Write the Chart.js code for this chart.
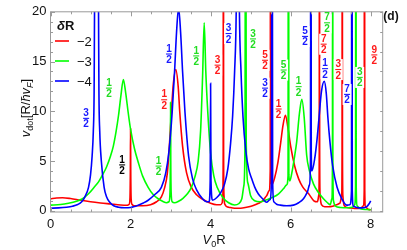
<!DOCTYPE html>
<html>
<head>
<meta charset="utf-8">
<script src="https://cdn.jsdelivr.net/npm/chart.js@4.4.1/dist/chart.umd.min.js"></script>
<style>
  html, body { margin: 0; padding: 0; background: #fff; }
  canvas { display: block; }
</style>
</head>
<body>
<canvas id="vdot-chart" width="407" height="250" style="width:407px;height:250px;"></canvas>
<script>
// δR = -2, -3, -4 : [V0R, vdot]
const red = [
  [0, 1.2], [0.15, 1.28], [0.3, 1.3], [0.5, 1.22], [0.75, 1.05], [1.0, 0.9], [1.25, 0.78],
  [1.5, 0.68], [1.75, 0.58], [1.9, 0.55], [1.96, 0.62], [1.985, 1.2], [1.995, 4], [2.0, 8.2],
  [2.005, 4], [2.015, 1.2], [2.04, 0.62], [2.1, 0.5], [2.3, 0.5], [2.5, 0.6], [2.65, 0.9],
  [2.77, 1.4], [2.85, 2.3], [2.92, 3.8], [2.97, 6.5], [3.02, 9.9], [3.07, 12.8], [3.13, 14.2],
  [3.19, 12.5], [3.23, 9.9], [3.3, 6.5], [3.4, 3.8], [3.52, 2.35], [3.65, 1.6], [3.8, 1.15],
  [4.0, 0.75], [4.15, 0.6], [4.25, 0.6], [4.29, 0.8], [4.305, 1.5], [4.315, 6], [4.32, 60],
  [4.325, 6], [4.335, 1.5], [4.35, 0.7], [4.45, 0.35], [4.6, 0.25], [4.75, 0.25], [4.9, 0.35],
  [5.05, 0.5], [5.2, 0.75], [5.3, 1.0], [5.4, 1.5], [5.46, 2.0], [5.49, 4], [5.5, 60],
  [5.51, 4], [5.53, 2.6], [5.6, 3.3], [5.68, 4.8], [5.75, 6.8], [5.81, 8.6], [5.87, 9.6],
  [5.93, 8.4], [6.0, 6.5], [6.1, 4.5], [6.2, 3.2], [6.3, 2.4], [6.45, 1.7], [6.58, 1.0],
  [6.67, 0.9], [6.705, 1.6], [6.715, 6], [6.72, 60], [6.725, 6], [6.735, 1.6], [6.77, 0.6],
  [6.85, 0.4], [6.95, 0.4], [7.05, 0.45], [7.15, 0.6], [7.23, 0.75], [7.275, 1.5], [7.285, 6],
  [7.29, 60], [7.295, 6], [7.305, 1.5], [7.34, 0.5], [7.45, 0.3], [7.6, 0.22], [7.75, 0.25],
  [7.82, 0.5], [7.838, 2], [7.845, 60], [7.852, 2], [7.87, 0.4], [7.95, 0.12], [8.0, 0.1]
];
const green = [
  [0, 0.56], [0.25, 0.62], [0.45, 0.75], [0.65, 0.95], [0.8, 1.2], [0.95, 1.7], [1.1, 2.4],
  [1.2, 2.9], [1.3, 3.6], [1.4, 4.4], [1.5, 5.5], [1.57, 6.5], [1.64, 8.0], [1.7, 9.6],
  [1.76, 11.6], [1.82, 13.2], [1.88, 11.8], [1.94, 9.9], [2.0, 8.2], [2.1, 6.2], [2.19, 4.9],
  [2.3, 3.5], [2.44, 2.35], [2.57, 1.6], [2.69, 1.2], [2.8, 0.95], [2.9, 0.8], [2.96, 0.9],
  [2.985, 1.8], [2.995, 5], [3.0, 10.9], [3.005, 5], [3.015, 1.8], [3.04, 0.9], [3.1, 0.8],
  [3.2, 0.95], [3.31, 1.25], [3.42, 1.7], [3.52, 2.35], [3.6, 3.3], [3.69, 5.0], [3.75, 8],
  [3.8, 13.5], [3.84, 18.9], [3.88, 14], [3.93, 9.9], [4.0, 5.8], [4.08, 3.5], [4.17, 2.3],
  [4.3, 1.35], [4.45, 0.8], [4.6, 0.58], [4.7, 0.7], [4.78, 1.2], [4.83, 2.5], [4.86, 7],
  [4.875, 60], [4.89, 7], [4.93, 2.8], [5.0, 1.5], [5.1, 1.0], [5.24, 0.9], [5.4, 1.1],
  [5.57, 1.37], [5.7, 1.7], [5.82, 2.2], [5.9, 2.6], [5.935, 3.5], [5.945, 60], [5.955, 3.6],
  [5.98, 3.0], [6.03, 3.8], [6.1, 5.5], [6.15, 6.9], [6.22, 9.8], [6.28, 11.2], [6.34, 9.3],
  [6.4, 5.6], [6.47, 4.0], [6.57, 2.7], [6.7, 1.8], [6.82, 1.2], [6.92, 0.8], [6.99, 0.6],
  [7.03, 1.2], [7.045, 5], [7.05, 60], [7.055, 5], [7.07, 1.0], [7.12, 0.45], [7.24, 0.33],
  [7.4, 0.3], [7.55, 0.35], [7.6, 0.6], [7.622, 2.5], [7.63, 60], [7.638, 2.5], [7.66, 0.5],
  [7.74, 0.2], [7.9, 0.12], [8.0, 0.1]
];
const blue = [
  [0, 0.25], [0.2, 0.28], [0.4, 0.35], [0.55, 0.45], [0.68, 0.62], [0.78, 0.9], [0.86, 1.4],
  [0.95, 2.35], [1.0, 3.6], [1.04, 5.5], [1.07, 8.0], [1.09, 12], [1.1, 20], [1.15, 45],
  [1.2, 20], [1.21, 12], [1.23, 8.0], [1.27, 5], [1.34, 2.35], [1.4, 1.4], [1.48, 0.85],
  [1.58, 0.5], [1.7, 0.35], [1.85, 0.3], [2.0, 0.32], [2.1, 0.42], [2.19, 0.56], [2.32, 0.78],
  [2.44, 1.05], [2.6, 1.6], [2.77, 2.35], [2.88, 3.8], [2.96, 6.0], [3.04, 9.9], [3.1, 14],
  [3.15, 18], [3.2, 20.4], [3.25, 18], [3.3, 14], [3.36, 9.9], [3.45, 5.5], [3.55, 3.2],
  [3.65, 2.1], [3.8, 1.2], [3.9, 0.9], [3.96, 0.9], [3.99, 3], [4.0, 12.8], [4.01, 3],
  [4.05, 1.05], [4.15, 1.3], [4.25, 1.8], [4.35, 2.7], [4.43, 4.2], [4.5, 6.8], [4.55, 9.5],
  [4.6, 14], [4.64, 20], [4.68, 40], [4.72, 20], [4.76, 14], [4.81, 9.4], [4.88, 6],
  [4.95, 4.2], [5.02, 3.3], [5.1, 2.4], [5.19, 1.7], [5.3, 1.2], [5.4, 0.85], [5.48, 1.1],
  [5.52, 3], [5.535, 60], [5.55, 3], [5.58, 0.9], [5.65, 0.65], [5.74, 0.56], [5.9, 0.5],
  [6.07, 0.56], [6.2, 0.8], [6.32, 1.2], [6.42, 1.9], [6.47, 2.6], [6.495, 5], [6.505, 60],
  [6.515, 6], [6.53, 4.0], [6.6, 5.2], [6.66, 7.2], [6.71, 9.4], [6.77, 12], [6.84, 13],
  [6.89, 11.8], [6.93, 9.4], [6.98, 7.0], [7.05, 4.5], [7.16, 2.35], [7.28, 1.2], [7.4, 0.56],
  [7.48, 0.6], [7.52, 2], [7.53, 60], [7.54, 2], [7.57, 0.45], [7.65, 0.33], [7.8, 0.28],
  [7.9, 0.4], [7.96, 0.7], [8.0, 1.0]
];

const seriesNames = ['\u22122', '\u22123', '\u22124'];
const seriesColors = ['#ff0000', '#00ff00', '#0000ff'];
const xTicks = [0, 2, 4, 6, 8];
const yTicks = [0, 5, 10, 15, 20];

// resonance labels (n/2): anchor = fraction bar centre, in data units
const fracX = [0.89, 1.46, 1.79, 2.70, 2.84, 2.96, 3.64, 4.175, 4.45, 5.06, 5.36, 5.36,
  5.825, 5.70, 6.20, 6.36, 6.91, 6.825, 6.86, 7.19, 7.41, 7.725, 8.09];
const fracY = [9.28, 12.32, 4.6, 4.48, 11.15, 15.75, 15.56, 14.63, 17.81, 17.27, 15.12, 12.32,
  14.14, 10.22, 12.47, 17.52, 18.89, 16.74, 14.28, 14.19, 11.69, 13.4, 15.66];
const fracNum = ['3', '1', '1', '1', '1', '1', '1', '3', '3', '3', '5', '3',
  '5', '1', '1', '5', '7', '7', '1', '3', '7', '3', '9'];
// 0 red, 1 green, 2 blue, 3 black
const fracSeries = [2, 1, 3, 1, 0, 2, 1, 0, 2, 1, 0, 2, 1, 0, 1, 2, 1, 0, 2, 0, 2, 1, 0];
const fracColors = ['#ff1a1a', '#22dd22', '#1a1aff', '#000000'];

const FONT = '"Liberation Sans", Arial, sans-serif';
const FRAME = '#9a9a9a';

function drawPieces(ctx, pieces, cx, baseline) {
  let total = 0;
  pieces.forEach(p => { ctx.font = p.font; p.w = ctx.measureText(p.t).width; total += p.w; });
  let x = cx - total / 2;
  pieces.forEach(p => {
    ctx.font = p.font;
    ctx.fillText(p.t, x, baseline + (p.dy || 0));
    x += p.w;
  });
}

const extras = {
  id: 'extras',
  afterDatasetsDraw(chart) {
    const { ctx, chartArea: a, scales: { x, y } } = chart;
    ctx.save();

    // frame + inward ticks
    ctx.strokeStyle = FRAME;
    ctx.lineWidth = 1;
    ctx.strokeRect(a.left, a.top, a.right - a.left, a.bottom - a.top);
    ctx.beginPath();
    for (let v = 0; v <= 8.3; v += 0.5) {
      const px = Math.round(x.getPixelForValue(v)) + 0.5;
      const len = v % 2 === 0 ? 4.5 : 2.5;
      ctx.moveTo(px, a.bottom); ctx.lineTo(px, a.bottom - len);
      ctx.moveTo(px, a.top); ctx.lineTo(px, a.top + len);
    }
    for (let v = 0; v <= 20; v += 1) {
      const py = Math.round(y.getPixelForValue(v)) + 0.5;
      const len = v % 5 === 0 ? 4.5 : 2.5;
      ctx.moveTo(a.left, py); ctx.lineTo(a.left + len, py);
      if (v % 2 === 0) { ctx.moveTo(a.right, py); ctx.lineTo(a.right - 2.5, py); }
    }
    ctx.stroke();

    // n/2 labels
    ctx.textAlign = 'center';
    ctx.textBaseline = 'middle';
    ctx.font = 'bold 10px ' + FONT;
    fracX.forEach((fx, i) => {
      const px = x.getPixelForValue(fx);
      const py = y.getPixelForValue(fracY[i]);
      ctx.fillStyle = '#fff';
      ctx.fillRect(px - 4.5, py - 10.5, 9, 21);
      ctx.fillStyle = fracColors[fracSeries[i]];
      ctx.fillText(fracNum[i], px, py - 5.2);
      ctx.fillText('2', px, py + 6.2);
      ctx.fillRect(px - 3, py - 0.6, 6, 1.1);
    });

    // legend
    ctx.textAlign = 'left';
    ctx.textBaseline = 'alphabetic';
    ctx.fillStyle = '#111';
    ctx.font = 'bold italic 13px ' + FONT;
    ctx.fillText('\u03b4', 57, 30);
    const dw = ctx.measureText('\u03b4').width;
    ctx.font = 'bold 13px ' + FONT;
    ctx.fillText('R', 57 + dw, 30);
    seriesNames.forEach((name, i) => {
      const ly = 41 + i * 20;
      ctx.strokeStyle = seriesColors[i];
      ctx.lineWidth = 1.6;
      ctx.beginPath(); ctx.moveTo(55, ly); ctx.lineTo(69, ly); ctx.stroke();
      ctx.fillStyle = '#111';
      ctx.font = '13px ' + FONT;
      ctx.fillText(name, 77, ly + 4.5);
    });

    // panel tag
    ctx.font = 'bold 12px ' + FONT;
    ctx.textAlign = 'center';
    ctx.fillText('(d)', 391, 20);

    // x title
    ctx.textAlign = 'left';
    drawPieces(ctx, [
      { t: 'V', font: 'italic 13px ' + FONT },
      { t: '0', font: '9px ' + FONT, dy: 3 },
      { t: 'R', font: '13px ' + FONT }
    ], 214, 244);

    // y title (rotated)
    ctx.translate(30, 108);
    ctx.rotate(-Math.PI / 2);
    drawPieces(ctx, [
      { t: 'v', font: 'italic 13px ' + FONT },
      { t: 'dot', font: '9px ' + FONT, dy: 3 },
      { t: '[R/', font: '13px ' + FONT },
      { t: '\u0127', font: 'italic 13px ' + FONT },
      { t: 'v', font: 'italic 13px ' + FONT },
      { t: 'F', font: 'italic 9px ' + FONT, dy: 3 },
      { t: ']', font: '13px ' + FONT }
    ], 0, 0);

    ctx.restore();
  }
};

const toXY = pts => pts.map(([px, py]) => ({ x: px, y: py }));

new Chart(document.getElementById('vdot-chart'), {
  type: 'line',
  data: {
    datasets: [red, green, blue].map((pts, i) => ({
      label: seriesNames[i],
      data: toXY(pts),
      borderColor: seriesColors[i],
      borderWidth: 1.6,
      pointRadius: 0,
      fill: false,
      cubicInterpolationMode: 'monotone',
      order: 3 - i
    }))
  },
  options: {
    responsive: false,
    animation: false,
    devicePixelRatio: 1,
    layout: { padding: { left: 0, top: 6.7, right: 24.3, bottom: 0 } },
    plugins: { legend: { display: false }, tooltip: { enabled: false } },
    scales: {
      x: {
        type: 'linear',
        min: 0,
        max: 8.3,
        afterFit: s => { s.height = 38; },
        afterBuildTicks: s => { s.ticks = xTicks.map(v => ({ value: v })); },
        grid: { display: false, drawTicks: false },
        border: { display: false },
        ticks: { padding: 5, color: '#111', font: { family: FONT, size: 13 } }
      },
      y: {
        type: 'linear',
        min: -0.13,
        max: 20,
        afterFit: s => { s.width = 50.5; },
        afterBuildTicks: s => { s.ticks = yTicks.map(v => ({ value: v })); },
        grid: { display: false, drawTicks: false },
        border: { display: false },
        ticks: { padding: 4, color: '#111', font: { family: FONT, size: 13 } }
      }
    }
  },
  plugins: [extras]
});
</script>
</body>
</html>
